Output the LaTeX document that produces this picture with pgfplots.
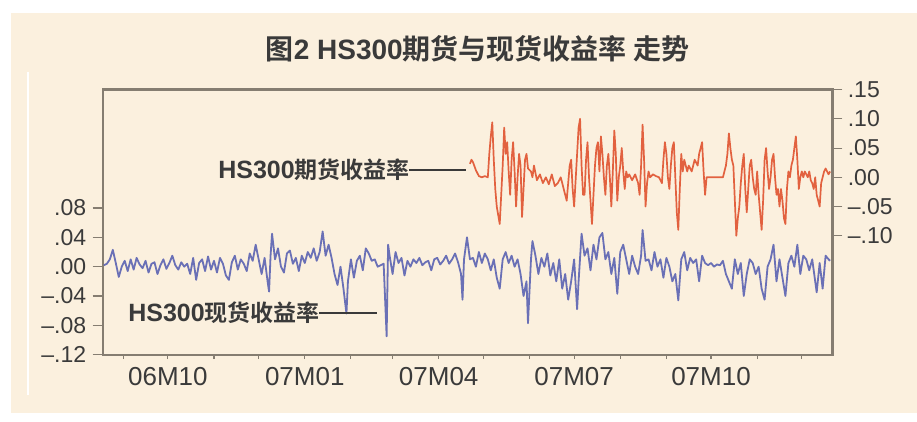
\documentclass[border=0pt]{standalone}
\usepackage{pgfplots}
\pgfplotsset{compat=1.18}
\usepackage{pgfplotstable}
\usepackage{fontspec}
\setmainfont{Liberation Sans}
\newfontfamily\cjk{Noto Sans CJK SC}[BoldFont={Noto Sans CJK SC Bold}]
\newfontfamily\lat{Liberation Sans}
\definecolor{beige}{HTML}{FBF0DE}
\definecolor{framec}{HTML}{857D71}
\definecolor{textc}{HTML}{3A3A3A}
\definecolor{spotc}{HTML}{6A70B6}
\definecolor{futc}{HTML}{E2613F}

\pgfplotstableread{
d v
-13 0.002
-11 0.004
-9 0.010
-7 0.023
-5 0.005
-3 -0.014
-1 0.000
1 0.008
3 -0.006
5 0.010
7 -0.004
9 0.012
11 0.003
13 -0.002
15 0.008
17 -0.008
19 0.004
21 0.006
23 -0.010
25 0.002
27 0.010
29 -0.003
31 0.005
33 0.015
35 0.002
37 -0.004
39 0.006
41 0.000
43 0.004
45 -0.010
47 0.012
49 -0.018
51 0.005
53 0.010
55 -0.006
57 0.014
59 -0.004
61 0.008
63 -0.008
65 0.012
67 0.004
69 -0.012
71 -0.018
73 0.006
75 0.015
77 -0.004
79 0.010
81 0.004
83 -0.006
85 0.018
87 0.008
89 0.030
91 0.010
93 -0.010
95 0.012
97 -0.020
98 -0.034
99 0.015
100 0.045
102 0.010
104 0.025
106 0.000
108 -0.008
110 0.018
112 0.022
114 0.004
116 0.012
118 -0.006
120 0.015
122 0.005
124 0.020
126 0.012
128 0.025
130 0.008
132 0.020
134 0.048
136 0.015
138 0.030
140 0.012
142 -0.010
144 -0.025
146 0.000
148 -0.030
150 -0.064
151 -0.020
153 0.010
155 -0.015
157 0.008
159 0.015
161 -0.005
163 0.025
165 0.018
167 0.008
169 0.010
171 0.000
173 0.002
175 0.004
177 -0.095
178 0.030
179 0.015
181 -0.010
183 0.020
185 0.005
187 0.012
189 -0.012
191 0.008
193 0.000
195 0.010
197 0.005
199 0.012
201 0.002
203 0.006
205 0.008
207 -0.005
209 0.010
211 0.012
213 0.003
215 0.008
217 0.015
219 0.004
221 0.010
223 0.018
225 0.006
227 -0.010
228 -0.045
229 0.010
231 0.040
233 0.010
235 0.012
237 0.000
239 0.020
241 0.005
243 0.018
245 0.010
247 -0.005
249 0.010
251 -0.015
253 -0.030
255 0.010
257 0.020
259 0.005
261 0.015
263 0.000
265 0.010
267 -0.010
269 -0.040
271 -0.020
272 -0.077
274 0.010
275 0.035
277 0.015
279 -0.010
281 0.012
283 0.000
285 0.018
287 -0.012
289 0.005
291 -0.020
293 0.010
295 -0.030
297 -0.010
299 -0.045
301 -0.020
303 0.010
305 -0.058
306 -0.020
308 0.045
310 0.015
312 0.025
314 -0.005
316 0.030
318 0.010
320 0.040
322 0.046
324 0.010
326 0.020
328 -0.010
330 0.012
332 -0.037
334 0.020
336 0.030
338 0.010
340 -0.010
342 0.015
344 0.000
346 -0.010
348 0.015
349 0.050
351 0.008
353 0.010
355 -0.005
357 0.020
359 0.000
361 0.010
363 -0.015
365 0.012
367 0.000
369 -0.020
371 -0.010
373 -0.046
375 0.010
377 0.020
379 -0.005
381 0.012
383 0.005
385 0.010
387 -0.020
389 0.015
391 0.005
393 0.002
395 0.005
397 0.000
399 0.003
401 0.002
403 0.008
405 -0.010
407 -0.020
409 -0.030
411 0.010
413 -0.010
415 0.005
417 -0.040
419 -0.010
421 0.010
423 0.005
425 -0.010
427 0.000
429 -0.030
431 -0.045
433 0.000
435 0.010
437 0.030
439 -0.020
441 0.010
443 -0.015
445 -0.040
447 0.005
449 0.015
451 0.000
453 0.030
455 -0.010
457 0.015
459 0.010
461 -0.005
463 0.010
465 -0.020
466 -0.035
468 0.005
470 -0.030
472 0.015
474 0.010
475 0.008
}\spot

\pgfplotstableread{
d v
233 0.023
234 0.030
235 0.026
237 0.012
239 0.002
241 0.000
243 0.002
245 0.000
246 0.040
247 0.070
248 0.094
249 0.030
250 -0.020
251 -0.050
252 -0.065
253 -0.080
254 -0.030
255 0.020
256 0.085
257 0.040
258 0.060
259 0.010
260 -0.030
261 0.030
262 0.060
263 0.010
264 -0.050
265 0.000
266 0.040
267 0.020
268 -0.068
269 -0.020
270 0.030
271 0.040
272 0.015
274 0.010
275 0.000
276 0.020
278 -0.005
280 0.005
282 -0.010
284 0.000
286 -0.012
288 0.005
290 -0.015
292 -0.010
294 0.000
296 -0.020
298 -0.040
299 -0.010
300 0.020
301 0.030
302 -0.020
303 -0.050
305 0.040
306 0.085
307 0.100
308 0.020
309 -0.030
310 -0.030
311 0.030
312 0.060
313 0.000
314 -0.040
315 -0.080
316 -0.030
317 0.020
318 0.050
319 0.060
320 0.010
321 0.070
322 0.040
323 0.000
324 -0.030
325 0.020
326 0.040
327 0.000
328 -0.050
329 0.010
330 0.080
331 0.040
332 -0.040
333 0.000
334 0.020
335 0.050
336 0.010
337 -0.020
338 0.010
339 0.000
340 0.005
342 -0.005
344 0.005
346 -0.010
347 -0.030
348 0.020
349 0.090
350 0.030
351 -0.050
352 -0.010
353 0.010
354 0.000
356 0.005
358 0.002
360 0.000
362 -0.010
363 0.030
364 0.060
365 0.040
366 0.000
367 -0.020
368 0.020
369 0.050
370 0.060
371 0.000
372 -0.060
373 -0.090
374 -0.020
375 0.040
376 0.010
377 0.030
378 0.020
379 0.010
380 0.020
382 0.010
384 0.030
386 0.020
387 0.040
388 0.050
389 0.060
390 0.010
391 -0.030
392 0.000
393 0.000
395 0.000
397 0.000
399 0.000
401 0.000
403 0.000
405 0.020
406 0.040
407 0.075
408 0.050
409 0.030
410 0.020
411 -0.040
412 -0.100
413 -0.070
414 -0.050
415 -0.010
416 0.020
417 0.040
418 -0.020
419 -0.060
420 -0.020
421 0.020
422 0.030
423 0.000
424 -0.020
425 -0.030
426 0.010
427 -0.030
428 -0.060
429 -0.090
430 -0.040
431 0.030
432 0.050
433 0.010
434 -0.020
435 0.000
436 0.030
437 0.040
438 0.000
439 -0.030
440 -0.020
441 -0.050
442 -0.020
443 -0.040
444 -0.070
445 -0.080
446 -0.020
447 0.010
448 0.000
449 0.020
450 0.030
451 0.050
452 0.070
453 0.030
454 -0.020
455 0.000
456 0.010
457 0.000
458 0.010
459 0.005
460 0.000
461 0.010
462 -0.005
463 -0.010
464 -0.020
465 0.000
466 -0.030
467 -0.040
468 -0.050
469 -0.010
470 0.000
471 0.010
472 0.015
473 0.010
474 0.005
475 0.010
}\fut

\pgfplotsset{
  common/.style={
    scale only axis, width=729.6pt, height=265.7pt,
    at={(102.7pt,66pt)}, anchor=south west,
    xmin=-13.8, xmax=476.5,
    axis line style={draw=framec, line width=2.4pt, line join=miter},
    tick style={draw=framec, line width=1.1pt},
    tick align=outside,
    major tick length=10pt,
    minor tick num=0,
    ticklabel style={font=\fontsize{23}{23}\selectfont, text=textc},
    clip=true,
  }
}

\begin{document}
\begin{tikzpicture}[x=1pt,y=1pt]
\fill[white] (0,0) rectangle (917,421);
\fill[beige] (11,8) rectangle (917,408);
\draw[white, line width=1.6pt] (28,349) -- (28,26);
\node[text=textc, font=\fontsize{28}{28}\selectfont, inner sep=0pt] at (477.5,372) {{\cjk\bfseries 图}{\lat\bfseries 2 HS300}{\cjk\bfseries 期货与现货收益率 走势}};

\begin{axis}[common,
  ymin=-0.1205, ymax=0.242,
  axis lines=box,
  xtick pos=bottom, ytick pos=left,
  xtick={0,30,61,91,122,153,181,212,242,273,303,334,365,395,426,456},
  xticklabels={,06M10,,,07M01,,,07M04,,,07M07,,,07M10,,},
  xtick style={/pgfplots/major tick length=4pt},
  ytick={-0.12,-0.08,-0.04,0,0.04,0.08},
  yticklabels={--.12,--.08,--.04,.00,.04,.08},
  yticklabel style={xshift=-3pt},
  xticklabel style={font=\fontsize{26}{26}\selectfont, text=textc, yshift=1pt},
]
\addplot[spotc, line width=1.8pt, line join=round] table[x=d,y=v] {\spot};
\end{axis}

\begin{axis}[common,
  ymin=-0.304, ymax=0.1505,
  axis x line=none,
  axis y line*=right,
  axis line style={draw=none},
  ytick={-0.1,-0.05,0,0.05,0.1,0.15},
  yticklabels={--.10,--.05,.00,.05,.10,.15},
  yticklabel style={xshift=2pt},
]
\addplot[futc, line width=1.7pt, line join=round] table[x=d,y=v] {\fut};
\end{axis}

\node[anchor=east, text=textc, font=\fontsize{23}{23}\selectfont, inner sep=0pt] at (410,251) {{\lat\bfseries\fontsize{25}{25}\selectfont HS300}{\cjk\bfseries 期货收益率}};
\draw[textc, line width=1.2pt] (409,251) -- (466,251);
\node[anchor=east, text=textc, font=\fontsize{23}{23}\selectfont, inner sep=0pt] at (320,108) {{\lat\bfseries\fontsize{25}{25}\selectfont HS300}{\cjk\bfseries 现货收益率}};
\draw[textc, line width=1.2pt] (319,108) -- (377,108);
\end{tikzpicture}
\end{document}
